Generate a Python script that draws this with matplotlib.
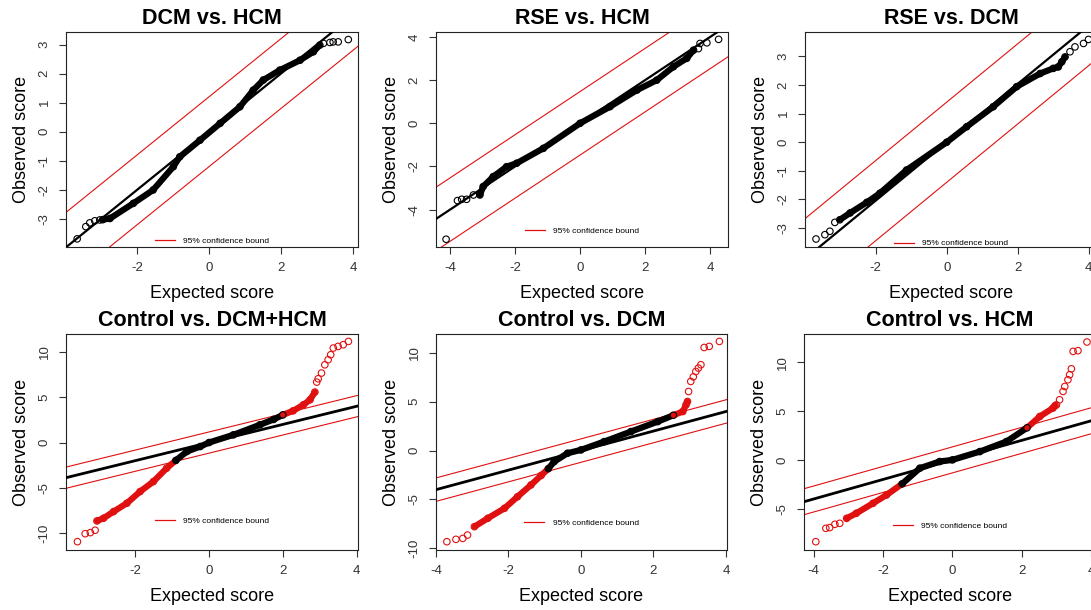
import matplotlib.pyplot as plt
import numpy as np
from matplotlib.collections import LineCollection
from matplotlib.lines import Line2D

plt.rcParams['font.family'] = ['Liberation Sans', 'DejaVu Sans']
plt.rcParams['axes.unicode_minus'] = False

titles = ["DCM vs. HCM", "RSE vs. HCM", "RSE vs. DCM",
          "Control vs. DCM+HCM", "Control vs. DCM", "Control vs. HCM"]

# dense part of each QQ curve (expected, observed)
dcm_hcm_x = [-2.95, -2.75, -2.10, -1.55, -0.99, -0.81, -0.25, 0.31, 0.86, 1.23, 1.51, 1.97, 2.53, 2.90, 3.08]
dcm_hcm_y = [-3.02, -2.98, -2.46, -2.00, -1.20, -0.86, -0.29, 0.29, 0.86, 1.43, 1.78, 2.12, 2.46, 2.75, 2.98]
rse_hcm_x = [-3.08, -2.98, -2.67, -2.26, -1.95, -1.13, 0.00, 0.92, 1.75, 2.36, 2.87, 3.28, 3.49]
rse_hcm_y = [-3.32, -2.93, -2.47, -2.01, -1.85, -1.16, 0.00, 0.77, 1.54, 2.00, 2.62, 3.01, 3.39]
rse_dcm_x = [-3.01, -2.72, -2.25, -1.88, -1.13, 0.00, 0.56, 1.31, 1.97, 2.63, 3.00, 3.14, 3.24, 3.33]
rse_dcm_y = [-2.71, -2.47, -2.10, -1.78, -0.97, 0.00, 0.54, 1.24, 1.94, 2.40, 2.58, 2.63, 2.81, 2.98]
ctl_both_x = [-3.04, -2.86, -2.59, -2.23, -1.87, -1.51, -1.15, -0.90, -0.60, -0.24, 0.00, 0.66, 1.38, 1.75,
              2.00, 2.28, 2.56, 2.74, 2.87]
ctl_both_y = [-8.65, -8.35, -7.62, -6.70, -5.41, -4.31, -2.83, -1.97, -0.99, -0.44, 0.00, 0.85, 1.96, 2.55,
              3.05, 3.50, 4.17, 4.72, 5.57]
ctl_dcm_x = [-2.94, -2.57, -2.11, -1.75, -1.38, -1.10, -0.90, -0.74, -0.37, 0.00, 0.64, 1.38, 2.12, 2.55,
             2.81, 2.90, 2.94]
ctl_dcm_y = [-7.79, -6.93, -5.91, -4.72, -3.52, -2.55, -1.85, -1.13, -0.27, 0.07, 0.92, 1.95, 2.97, 3.62,
             4.00, 4.69, 5.03]
ctl_hcm_x = [-3.05, -2.77, -2.29, -1.90, -1.45, -0.94, -0.37, 0.00, 0.79, 1.56, 2.15, 2.52, 2.90, 2.96]
ctl_hcm_y = [-5.98, -5.46, -4.44, -3.59, -2.45, -0.85, -0.17, 0.00, 0.85, 1.88, 3.28, 4.44, 5.30, 5.55]

# sparse tail points
dcm_hcm_tx = [-3.66, -3.42, -3.31, -3.17, -3.03, 3.18, 3.36, 3.45, 3.59, 3.87]
dcm_hcm_ty = [-3.68, -3.26, -3.13, -3.06, -3.03, 3.04, 3.07, 3.09, 3.09, 3.17]
rse_hcm_tx = [-4.12, -3.77, -3.64, -3.49, -3.28, 3.64, 3.69, 3.90, 4.26]
rse_hcm_ty = [-5.37, -3.58, -3.52, -3.52, -3.32, 3.46, 3.70, 3.73, 3.89]
rse_dcm_tx = [-3.68, -3.43, -3.29, -3.15, 3.47, 3.61, 3.85, 3.99]
rse_dcm_ty = [-3.38, -3.23, -3.11, -2.80, 3.16, 3.33, 3.45, 3.59]
ctl_both_tx = [-3.57, -3.36, -3.22, -3.09, 2.92, 2.96, 3.05, 3.14, 3.23, 3.30, 3.37, 3.50, 3.64, 3.78]
ctl_both_ty = [-10.94, -10.06, -9.94, -9.68, 6.67, 7.04, 7.67, 8.58, 9.14, 9.69, 10.43, 10.61, 10.80, 11.16]
ctl_dcm_tx = [-3.70, -3.45, -3.26, -3.13, 2.97, 3.03, 3.10, 3.17, 3.24, 3.31, 3.40, 3.54, 3.82]
ctl_dcm_ty = [-9.33, -9.09, -8.99, -8.65, 6.05, 7.08, 7.55, 8.10, 8.45, 8.79, 10.56, 10.67, 11.18]
ctl_hcm_tx = [-3.94, -3.65, -3.54, -3.39, -3.25, 3.00, 3.09, 3.19, 3.24, 3.33, 3.38, 3.43, 3.48, 3.62, 3.88]
ctl_hcm_ty = [-8.37, -7.00, -6.93, -6.59, -6.49, 5.63, 6.15, 7.00, 7.51, 8.20, 8.71, 9.32, 11.10, 11.17, 12.06]

# reference line slope and half-width of the 95% band
ref_slope = [1.0, 1.0, 1.02, 1.0, 1.0, 1.0]
bound_width = [1.2, 1.47, 1.4, 1.17, 1.2, 1.33]
# expected-score range where points are inside the band (drawn black)
inner_range = [(-9, 9), (-9, 9), (-9, 9), (-0.90, 2.00), (-0.90, 2.55), (-1.45, 2.15)]

bands = [(dcm_hcm_x, dcm_hcm_y), (rse_hcm_x, rse_hcm_y), (rse_dcm_x, rse_dcm_y),
         (ctl_both_x, ctl_both_y), (ctl_dcm_x, ctl_dcm_y), (ctl_hcm_x, ctl_hcm_y)]
tails = [(dcm_hcm_tx, dcm_hcm_ty), (rse_hcm_tx, rse_hcm_ty), (rse_dcm_tx, rse_dcm_ty),
         (ctl_both_tx, ctl_both_ty), (ctl_dcm_tx, ctl_dcm_ty), (ctl_hcm_tx, ctl_hcm_ty)]

# layout (pixels: left, top, width, height) and axis settings
W, H = 1091, 610
boxes = [(66, 32, 292, 215), (436, 32, 292, 215), (805, 32, 292, 215),
         (66, 334, 292, 216), (436, 334, 291, 216), (804, 334, 292, 216)]
xlims = [(-3.97, 4.14), (-4.43, 4.55), (-3.99, 4.23), (-3.88, 4.04), (-4.0, 4.03), (-4.28, 4.14)]
ylims = [(-3.96, 3.43), (-5.73, 4.23), (-3.66, 3.85), (-11.86, 11.98), (-10.18, 11.94), (-9.22, 12.88)]
xticks = [[-2, 0, 2, 4], [-4, -2, 0, 2, 4], [-2, 0, 2, 4], [-2, 0, 2, 4], [-4, -2, 0, 2, 4], [-4, -2, 0, 2, 4]]
yticks = [[-3, -2, -1, 0, 1, 2, 3], [-4, -2, 0, 2, 4], [-3, -2, -1, 0, 1, 2, 3],
          [-10, -5, 0, 5, 10], [-10, -5, 0, 5, 10], [-5, 0, 5, 10]]
leg_y = [0.0, 0.05, -0.01, 0.11, 0.10, 0.085]

RED = '#e01010'

fig = plt.figure(figsize=(W / 100, H / 100), dpi=100)

for i in range(6):
    l, t, w, h = boxes[i]
    ax = fig.add_axes([l / W, 1 - (t + h) / H, w / W, h / H])
    slope, bw = ref_slope[i], bound_width[i]
    lo, hi = inner_range[i]

    ax.axline((0, 0), slope=slope, color='black', lw=1.6 if i < 3 else 2.0, zorder=3)
    ax.axline((0, bw), slope=slope, color=RED, lw=0.8, zorder=2)
    ax.axline((0, -bw), slope=slope, color=RED, lw=0.8, zorder=2)

    bx, by = np.array(bands[i][0]), np.array(bands[i][1])
    pts = np.column_stack([bx, by])
    segs = np.stack([pts[:-1], pts[1:]], axis=1)
    mid = (bx[:-1] + bx[1:]) / 2
    seg_col = ['black' if lo <= m <= hi else RED for m in mid]
    ax.add_collection(LineCollection(segs, colors=seg_col, linewidths=4.5, capstyle='round', zorder=4))
    band_col = ['black' if lo <= v <= hi else RED for v in bx]
    ax.scatter(bx, by, s=22, facecolors='none', edgecolors=band_col, linewidths=0.8, zorder=5)

    tx, ty = np.array(tails[i][0]), np.array(tails[i][1])
    tail_col = ['black' if lo <= v <= hi else RED for v in tx]
    ax.scatter(tx, ty, s=22, facecolors='none', edgecolors=tail_col, linewidths=0.8, zorder=5)

    ax.set_xlim(*xlims[i])
    ax.set_ylim(*ylims[i])
    ax.set_xticks(xticks[i])
    ax.set_yticks(yticks[i])
    ax.tick_params(direction='out', length=5, width=0.8, pad=6, labelsize=9.5,
                   labelcolor='#333333', color='#333333')
    ax.tick_params(axis='y', labelrotation=90)
    for lbl in ax.get_yticklabels():
        lbl.set_va('center')
    for sp in ax.spines.values():
        sp.set_linewidth(0.8)
        sp.set_color('#222222')

    ax.set_title(titles[i], fontsize=15.5, fontweight='bold', pad=6)
    ax.set_xlabel("Expected score", fontsize=13, labelpad=8)
    ax.set_ylabel("Observed score", fontsize=13, labelpad=6)

    handle = Line2D([], [], color=RED, lw=0.9)
    ax.legend([handle], ["95% confidence bound"], loc='lower center', bbox_to_anchor=(0.5, leg_y[i]),
              frameon=False, fontsize=6, handlelength=2.4, handletextpad=1.0,
              borderpad=0.2, borderaxespad=0)

fig.savefig("out.png", dpi=100)
